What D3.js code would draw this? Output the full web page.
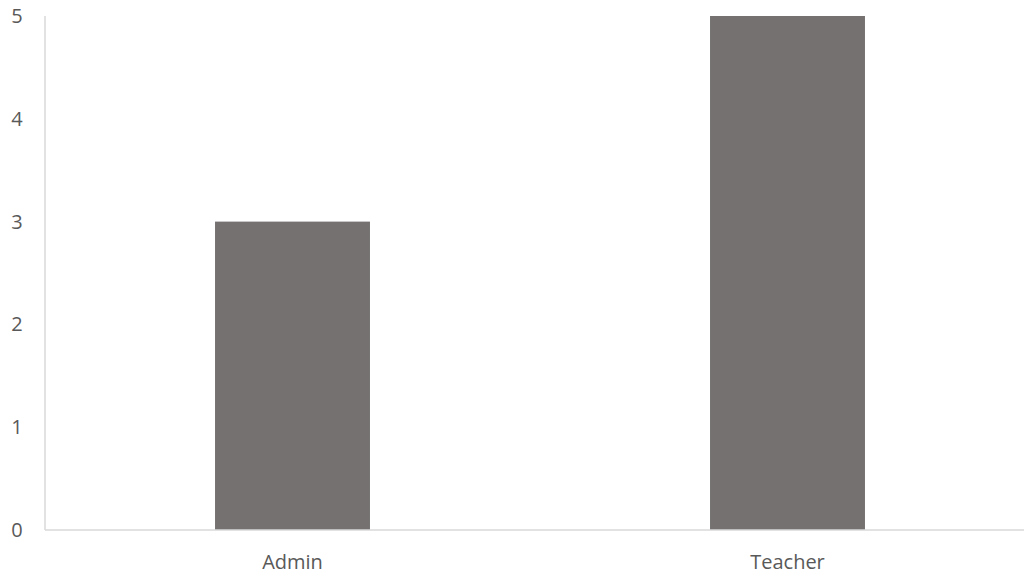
<!DOCTYPE html>
<html>
<head>
<meta charset="utf-8">
<script src="https://cdn.jsdelivr.net/npm/d3@7"></script>
<style>
  html, body { margin: 0; padding: 0; background: #fff; }
  svg { display: block; }
  text { font-family: "Open Sans", "Noto Sans", sans-serif; fill: #595959; }
</style>
</head>
<body>
<svg id="chart" width="1024" height="575"></svg>
<script>
// Data
const categories = ["Admin", "Teacher"];
const values = [3, 5];
const yTicks = [0, 1, 2, 3, 4, 5];

const svg = d3.select("#chart");
const plotLeft = 45, plotRight = 1035, plotTop = 16, plotBottom = 530;

const x = d3.scaleBand().domain(categories).range([plotLeft, plotRight])
  .paddingInner(0.687).paddingOuter(0.3435);
const y = d3.scaleLinear().domain([0, 5]).range([plotBottom, plotTop]);

// Bars
svg.append("g").selectAll("rect")
  .data(categories)
  .join("rect")
  .attr("x", d => x(d))
  .attr("y", (d, i) => y(values[i]))
  .attr("width", x.bandwidth())
  .attr("height", (d, i) => y(0) - y(values[i]))
  .attr("fill", "#767171");

// Axis lines
svg.append("line")
  .attr("x1", plotLeft).attr("x2", plotLeft)
  .attr("y1", plotTop).attr("y2", plotBottom)
  .attr("stroke", "#d9d9d9").attr("stroke-width", 1.5);
svg.append("line")
  .attr("x1", plotLeft).attr("x2", 1024)
  .attr("y1", plotBottom).attr("y2", plotBottom)
  .attr("stroke", "#d9d9d9").attr("stroke-width", 1.5);

// Y tick labels
svg.append("g").selectAll("text")
  .data(yTicks)
  .join("text")
  .attr("x", 17)
  .attr("y", d => y(d))
  .attr("dy", "0.35em")
  .attr("text-anchor", "middle")
  .attr("font-size", 20)
  .text(d => d);

// Category labels
svg.append("g").selectAll("text")
  .data(categories)
  .join("text")
  .attr("x", d => x(d) + x.bandwidth() / 2)
  .attr("y", 562)
  .attr("dy", "0.35em")
  .attr("text-anchor", "middle")
  .attr("font-size", 20)
  .text(d => d);
</script>
</body>
</html>
